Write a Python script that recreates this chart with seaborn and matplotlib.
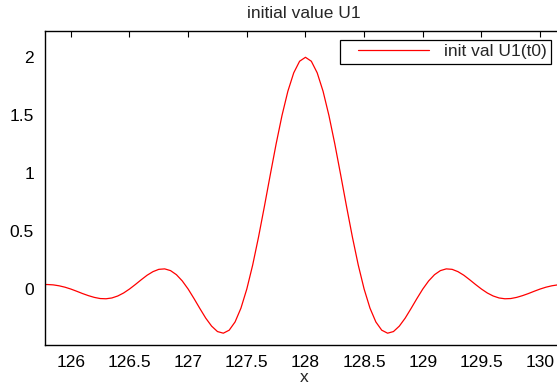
import seaborn as sns
import matplotlib.pyplot as plt
from matplotlib.legend_handler import HandlerLine2D
import numpy as np
import pandas as pd

# grid of x positions (step 0.05)
x = np.round(np.arange(125.75, 130.2501, 0.05), 2)

# initial value U1
u1 = [0.038, 0.039, 0.036, 0.028, 0.016, 0.000, -0.019, -0.039, -0.057, -0.072,
      -0.082, -0.084, -0.077, -0.060, -0.034, 0.000, 0.039, 0.080, 0.119, 0.150,
      0.170, 0.174, 0.159, 0.124, 0.070, 0.000, -0.082, -0.168, -0.251, -0.320,
      -0.367, -0.381, -0.355, -0.284, -0.165, 0.000, 0.207, 0.449, 0.713, 0.986,
      1.253, 1.498, 1.707, 1.866, 1.966, 2.000, 1.966, 1.866, 1.707, 1.498,
      1.253, 0.986, 0.713, 0.449, 0.207, 0.000, -0.165, -0.284, -0.355, -0.381,
      -0.367, -0.320, -0.251, -0.168, -0.082, 0.000, 0.070, 0.124, 0.159, 0.174,
      0.170, 0.150, 0.119, 0.080, 0.039, 0.000, -0.034, -0.060, -0.077, -0.084,
      -0.082, -0.072, -0.057, -0.039, -0.019, 0.000, 0.016, 0.028, 0.036, 0.039,
      0.038]

xticks = [126, 126.5, 127, 127.5, 128, 128.5, 129, 129.5, 130]
yticks = [0, 0.5, 1, 1.5, 2]

df = pd.DataFrame({"x": x, "U1": u1})


# legend line with extra room on its left, like the matlab legend
class PaddedLine(HandlerLine2D):
    def create_artists(self, legend, orig_handle, xdescent, ydescent,
                       width, height, fontsize, trans):
        pad = 10
        return super().create_artists(legend, orig_handle, xdescent - pad, ydescent,
                                      width - pad, height, fontsize, trans)


sns.set_style("white")
plt.rcParams['font.family'] = ['Liberation Sans', 'DejaVu Sans']

fig = plt.figure(figsize=(5.57, 3.86), dpi=100)
ax = fig.add_axes([0.0808, 0.1062, 0.931, 0.8135])

sns.lineplot(data=df, x="x", y="U1", color="red", linewidth=0.9,
             label="init val U1(t0)", ax=ax)

ax.set_xlim(125.78, 130.2)
ax.set_ylim(-0.483, 2.227)
ax.set_xticks(xticks)
ax.set_xticklabels(["126", "126.5", "127", "127.5", "128", "128.5", "129", "129.5", "130"])
ax.set_yticks(yticks)
ax.set_yticklabels(["0", "0.5", "1", "1.5", "2"])
ax.tick_params(direction="in", length=4, width=0.8, top=True, right=True,
               labelsize=12.5, colors="black")
ax.tick_params(axis="x", pad=7)
ax.tick_params(axis="y", pad=8)

for s in ax.spines.values():
    s.set_color("black")
    s.set_linewidth(1.0)

ax.set_title("initial value U1", fontsize=12.5, pad=9)
ax.set_xlabel("x", fontsize=12.5, labelpad=0)
ax.set_ylabel("")

handles, labels = ax.get_legend_handles_labels()
leg = ax.legend(handles, labels, loc="upper right",
                bbox_to_anchor=(551 / 557, 1 - 40 / 386),
                bbox_transform=fig.transFigure, borderaxespad=0,
                fancybox=False, edgecolor="black", framealpha=1,
                fontsize=12.5, handlelength=4.9, borderpad=0.25, handletextpad=0.85,
                handler_map={handles[0]: PaddedLine()})
leg.get_frame().set_linewidth(0.9)

fig.savefig("out.png", dpi=100)
